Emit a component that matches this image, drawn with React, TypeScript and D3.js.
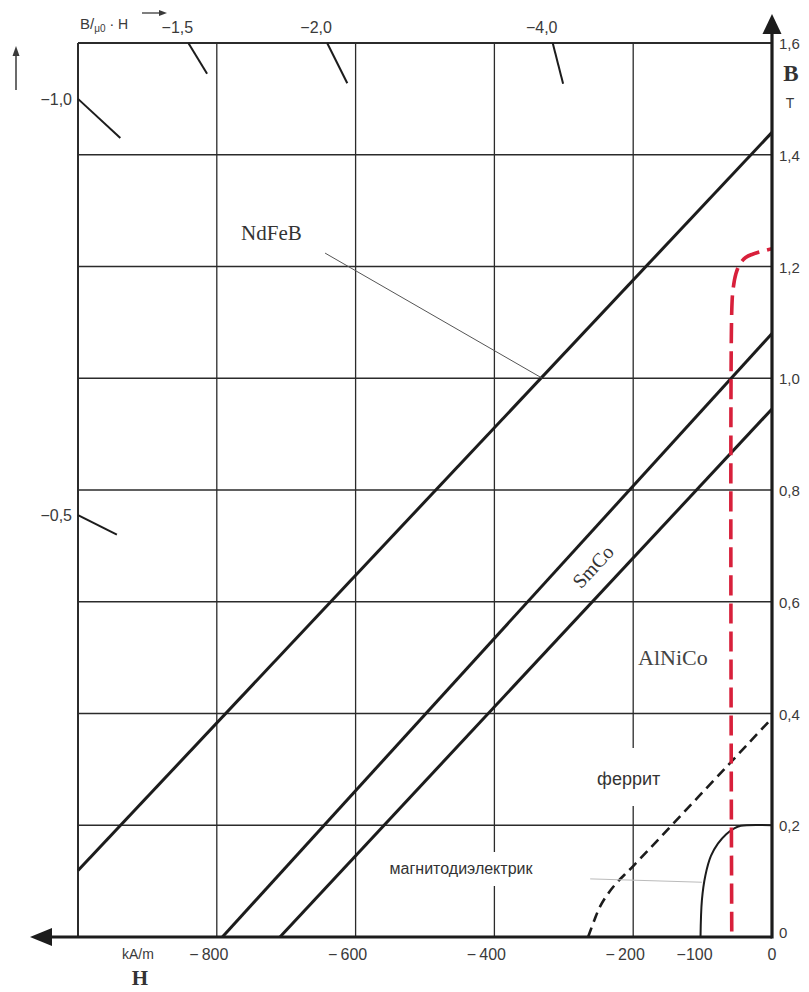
import React from 'react';
import * as d3 from 'd3';

const WIDTH = 809;
const HEIGHT = 992;

// Axis ticks
const hGridValues = [-1000, -800, -600, -400, -200];
const hTickValues = [-800, -600, -400, -200, -100, 0];
const hTickLabels = ['−\u2009800', '−\u2009600', '−\u2009400', '−\u2009200', '−100', '0'];
const bTickValues = [0, 0.2, 0.4, 0.6, 0.8, 1.0, 1.2, 1.4, 1.6];
const bTickLabels = ['0', '0,2', '0,4', '0,6', '0,8', '1,0', '1,2', '1,4', '1,6'];

// Straight demagnetisation lines: remanence Br (T) and intercept Hc (kA/m)
const lineNames = ['NdFeB', 'SmCo-a', 'SmCo-b'];
const lineBr = [1.44, 1.08, 0.945];
const lineHc = [-1090, -792, -709];

// AlNiCo curve
const alnicoH = [-58, -58, -56, -52, -46, -38, -28, -15, 0];
const alnicoB = [0.01, 1.12, 1.16, 1.187, 1.205, 1.216, 1.222, 1.227, 1.232];

// Ferrite curve
const ferriteH = [-265, -256, -248, -236, -223, -200, -5];
const ferriteB = [0, 0.03, 0.054, 0.078, 0.098, 0.127, 0.385];

// Magnetodielectric curve
const dielectricH = [-103, -101, -96, -88, -78, -66, -55, -45, 0];
const dielectricB = [0, 0.066, 0.11, 0.145, 0.167, 0.184, 0.194, 0.199, 0.2];

// Permeance (B/μ0·H) direction marks at the frame
const permLabels = ['−1,0', '−0,5', '−1,5', '−2,0', '−4,0'];
const permStartH = [-1000, -1000, -841, -641, -316];
const permStartB = [1.5, 0.755, 1.6, 1.6, 1.6];
const permEndH = [-939, -944, -814, -612, -301];
const permEndB = [1.43, 0.72, 1.545, 1.528, 1.527];

const SANS = '"Liberation Sans", Arial, sans-serif';
const SERIF = '"Liberation Serif", "Times New Roman", serif';

export default function App() {
  const x = d3.scaleLinear().domain([-1000, 0]).range([78, 772]);
  const y = d3.scaleLinear().domain([0, 1.6]).range([937, 43]);

  const line = d3
    .line<[number, number]>()
    .x((d) => x(d[0]))
    .y((d) => y(d[1]));
  const smooth = d3
    .line<[number, number]>()
    .x((d) => x(d[0]))
    .y((d) => y(d[1]))
    .curve(d3.curveCatmullRom.alpha(0.5));

  const zip = (hs: number[], bs: number[]) => hs.map((h, i) => [h, bs[i]] as [number, number]);

  // Clip straight lines to the plot frame (H >= -1000, B >= 0)
  const straight = lineNames.map((name, i) => {
    const br = lineBr[i];
    const hc = lineHc[i];
    const h0 = Math.max(hc, -1000);
    const b0 = br * (1 - h0 / hc);
    return { name, pts: [[h0, b0], [0, br]] as [number, number][] };
  });

  const x0 = x(-1000);
  const x1 = x(0);
  const yTop = y(1.6);
  const yBot = y(0);
  const grid = '#2b2b2b';
  const ink = '#1c1c1c';
  const textCol = '#3a3a3a';

  return (
    <svg
      width={WIDTH}
      height={HEIGHT}
      style={{ position: 'absolute', left: 0, top: 0, background: '#fff' }}
    >
      <rect width={WIDTH} height={HEIGHT} fill="#fff" />

      {/* grid */}
      {bTickValues
        .filter((v) => v > 0)
        .map((v) => (
          <line
            key={'hb' + v}
            x1={x0}
            x2={x1}
            y1={y(v)}
            y2={y(v)}
            stroke={grid}
            strokeWidth={v === 1.6 ? 2 : 1.3}
          />
        ))}
      {hGridValues.map((v) => (
        <line
          key={'vh' + v}
          x1={x(v)}
          x2={x(v)}
          y1={yTop}
          y2={yBot}
          stroke={grid}
          strokeWidth={v === -1000 ? 2 : 1.3}
        />
      ))}

      {/* label backgrounds that interrupt the grid */}
      <rect x={590} y={748} width={95} height={58} fill="#fff" />
      <rect x={385} y={852} width={205} height={34} fill="#fff" />

      {/* permeance marks */}
      {permLabels.map((lab, i) => (
        <line
          key={'pm' + i}
          x1={x(permStartH[i])}
          y1={y(permStartB[i])}
          x2={x(permEndH[i])}
          y2={y(permEndB[i])}
          stroke={ink}
          strokeWidth={2}
        />
      ))}
      {permLabels.map((lab, i) => {
        const onLeft = permStartH[i] === -1000;
        return (
          <text
            key={'pl' + i}
            x={onLeft ? x(permStartH[i]) - 6 : x(permStartH[i]) - 11}
            y={onLeft ? y(permStartB[i]) + 6 : 33}
            textAnchor={onLeft ? 'end' : 'middle'}
            fontFamily={SANS}
            fontSize={16}
            fill={textCol}
          >
            {lab}
          </text>
        );
      })}

      {/* B/μ0·H header with arrows */}
      <text x={80} y={29} fontFamily={SANS} fontSize={15} fill={textCol}>
        <tspan>B</tspan>
        <tspan>/</tspan>
        <tspan fontSize={10} dy={3}>μ0</tspan>
        <tspan fontSize={14} dy={-3}> · H</tspan>
      </text>
      <line x1={142} y1={13} x2={162} y2={13} stroke={textCol} strokeWidth={1.3} />
      <path d="M167,13 L159,10 L159,16 Z" fill={textCol} />
      <line x1={16} y1={90} x2={16} y2={54} stroke={textCol} strokeWidth={1.5} />
      <path d="M16,46 L12.5,56 L19.5,56 Z" fill={textCol} />

      {/* straight magnet lines */}
      {straight.map((s) => (
        <path key={s.name} d={line(s.pts) || ''} fill="none" stroke={ink} strokeWidth={3} />
      ))}

      {/* NdFeB pointer */}
      <line x1={x(-644)} y1={y(1.224)} x2={x(-331)} y2={y(1.0)} stroke="#555" strokeWidth={1} />
      <text x={x(-765)} y={y(1.247)} fontFamily={SERIF} fontSize={21} fill="#333">
        NdFeB
      </text>

      {/* SmCo label along the lines */}
      <text
        transform={`translate(${x(-258)},${y(0.663)}) rotate(-47)`}
        textAnchor="middle"
        fontFamily={SERIF}
        fontSize={20}
        fill="#333"
        dy={7}
      >
        SmCo
      </text>

      {/* ferrite */}
      <path
        d={smooth(zip(ferriteH, ferriteB)) || ''}
        fill="none"
        stroke={ink}
        strokeWidth={2.6}
        strokeDasharray="10 6"
      />
      <text x={x(-252)} y={y(0.272)} fontFamily={SANS} fontSize={18} fill="#333">
        феррит
      </text>

      {/* magnetodielectric */}
      <line x1={x(-262)} y1={y(0.104)} x2={x(-101)} y2={y(0.098)} stroke="#bbb" strokeWidth={1} />
      <path d={smooth(zip(dielectricH, dielectricB)) || ''} fill="none" stroke={ink} strokeWidth={2} />
      <text x={x(-551)} y={y(0.113)} fontFamily={SANS} fontSize={16} fill="#333">
        магнитодиэлектрик
      </text>

      {/* AlNiCo */}
      <path
        d={smooth(zip(alnicoH, alnicoB)) || ''}
        fill="none"
        stroke="#d8203b"
        strokeWidth={3.6}
        strokeDasharray="20 8"
      />
      <text x={x(-193)} y={y(0.486)} fontFamily={SERIF} fontSize={22} fill="#444">
        AlNiCo
      </text>

      {/* H axis */}
      <line x1={48} x2={x1} y1={yBot} y2={yBot} stroke={ink} strokeWidth={3.2} />
      <path d={`M30,${yBot} L52,${yBot - 9} L52,${yBot + 9} Z`} fill={ink} />
      {hTickValues.map((v, i) => (
        <text
          key={'ht' + v}
          x={x(v) + (v < 0 ? -8 : 0)}
          y={960}
          textAnchor="middle"
          fontFamily={SANS}
          fontSize={16}
          fill={textCol}
        >
          {hTickLabels[i]}
        </text>
      ))}
      <text x={122} y={959} fontFamily={SANS} fontSize={14} fill={textCol}>
        kA/m
      </text>
      <text x={140} y={985} textAnchor="middle" fontFamily={SERIF} fontWeight="bold" fontSize={21} fill="#333">
        H
      </text>

      {/* B axis */}
      <line x1={x1} x2={x1} y1={yBot + 1.5} y2={30} stroke={ink} strokeWidth={3.2} />
      <path d={`M${x1},14 L${x1 - 9.5},34 L${x1 + 9.5},34 Z`} fill={ink} />
      {bTickValues.map((v, i) => (
        <text
          key={'bt' + v}
          x={779}
          y={y(v) + (v === 0 ? 1 : 6)}
          fontFamily={SANS}
          fontSize={15}
          fill={textCol}
        >
          {bTickLabels[i]}
        </text>
      ))}
      <text x={791} y={81} textAnchor="middle" fontFamily={SERIF} fontWeight="bold" fontSize={23} fill="#333">
        B
      </text>
      <text x={790} y={108} textAnchor="middle" fontFamily={SANS} fontSize={14} fill={textCol}>
        T
      </text>
    </svg>
  );
}
